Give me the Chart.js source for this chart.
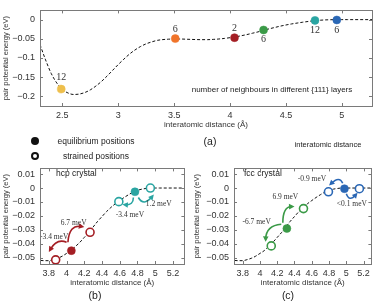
<!DOCTYPE html>
<html>
<head>
<meta charset="utf-8">
<script src="https://cdn.jsdelivr.net/npm/chart.js@4.4.1/dist/chart.umd.min.js"></script>
<style>
  body { margin: 0; background: #fff; }
  #fig { position: relative; width: 377px; height: 304px; overflow: hidden; font-family: 'Liberation Sans', Arial, sans-serif; color: #222; }
  canvas { position: absolute; }
  .t { position: absolute; white-space: nowrap; transform: translate(-50%, -50%); line-height: 1; }
  .l { position: absolute; white-space: nowrap; transform: translateY(-50%); line-height: 1; }
  .dot { position: absolute; width: 8px; height: 8px; border-radius: 50%; box-sizing: border-box; transform: translate(-50%, -50%); }
</style>
</head>
<body>
<div id="fig">
  <canvas id="ca" width="377" height="132" style="left:0;top:0"></canvas>
  <canvas id="cb" width="190" height="132" style="left:0;top:158px"></canvas>
  <canvas id="cc" width="187" height="132" style="left:190px;top:158px"></canvas>

  <div class="t" style="left:272px;top:90px;font-size:8px">number of neighbours in different {111} layers</div>
  <div class="t" style="left:210px;top:141px;font-size:10.5px">(a)</div>
  <div class="dot" style="left:35px;top:141px;background:#111"></div>
  <div class="dot" style="left:35px;top:156px;border:2px solid #111;background:#fff"></div>
  <div class="t" style="left:96px;top:141px;font-size:8.5px">equilibrium positions</div>
  <div class="t" style="left:96px;top:156px;font-size:8.5px">strained positions</div>
  <div class="t" style="left:328px;top:145px;font-size:7.5px">interatomic distance</div>
  <div class="l" style="left:56px;top:173px;font-size:8.5px">hcp crystal</div>
  <div class="l" style="left:244px;top:173px;font-size:8.5px">fcc crystal</div>
  <div class="t" style="left:95px;top:295px;font-size:10.5px">(b)</div>
  <div class="t" style="left:288px;top:295px;font-size:10.5px">(c)</div>
</div>
<script>
// pair potential
const curveX = [2.30, 2.35, 2.40, 2.45, 2.50, 2.55, 2.60, 2.65, 2.70, 2.75, 2.80, 2.85, 2.90, 2.95,
  3.00, 3.05, 3.10, 3.15, 3.20, 3.25, 3.30, 3.35, 3.40, 3.45, 3.50, 3.55, 3.60, 3.65, 3.70, 3.75,
  3.80, 3.85, 3.90, 3.95, 4.00, 4.05, 4.10, 4.15, 4.20, 4.25, 4.30, 4.35, 4.40, 4.45, 4.50, 4.55,
  4.60, 4.65, 4.70, 4.75, 4.80, 4.85, 4.90, 4.95, 5.00, 5.05, 5.10, 5.15, 5.20, 5.25, 5.30]
const curveY = [-0.065, -0.105, -0.140, -0.165, -0.182, -0.191, -0.195, -0.194, -0.190, -0.183, -0.173, -0.161, -0.147, -0.132,
  -0.117, -0.103, -0.090, -0.079, -0.070, -0.063, -0.058, -0.054, -0.052, -0.051, -0.0505, -0.0505, -0.051, -0.0515, -0.052, -0.0522,
  -0.0522, -0.0515, -0.0505, -0.049, -0.047, -0.045, -0.042, -0.039, -0.0355, -0.032, -0.028, -0.024, -0.0205, -0.017, -0.014, -0.0113,
  -0.009, -0.0068, -0.0048, -0.003, -0.0017, -0.0008, -0.0003, 0, 0, 0, 0, 0, 0, 0, 0]

const aTicksX = [2.5, 3, 3.5, 4, 4.5, 5]
const aTickLabelsX = ['2.5', '3', '3.5', '4', '4.5', '5']
const aTicksY = [0, -0.05, -0.1, -0.15, -0.2]
const aTickLabelsY = ['0', '\u22120.05', '\u22120.1', '\u22120.15', '\u22120.2']

const aPointX = [2.49, 3.51, 4.04, 4.30, 4.76, 4.955]
const aPointY = [-0.181, -0.0495, -0.047, -0.027, -0.002, -0.001]
const aPointLabels = ['12', '6', '2', '6', '12', '6']

const zTicksX = [3.8, 4, 4.2, 4.4, 4.6, 4.8, 5, 5.2]
const zTickLabelsX = ['3.8', '4', '4.2', '4.4', '4.6', '4.8', '5', '5.2']
const zTicksY = [0.01, 0, -0.01, -0.02, -0.03, -0.04, -0.05]
const zTickLabelsY = ['0.01', '0', '\u22120.01', '\u22120.02', '\u22120.03', '\u22120.04', '\u22120.05']

const hcpEqX = [4.054, 4.772]
const hcpEqY = [-0.045, -0.0027]
const hcpStrX = [3.877, 4.265, 4.59, 4.946]
const hcpStrY = [-0.0516, -0.0318, -0.0098, 0]
const hcpNotes = ['6.7 meV', '-3.4 meV', '-3.4 meV', '1.2 meV']
const hcpNoteX = [4.08, 3.86, 4.715, 5.04]
const hcpNoteY = [-0.025, -0.0352, -0.0194, -0.0114]
const hcpArrowFrom = [[4.015, -0.039], [4.0, -0.039], [4.754, -0.0068], [4.81, -0.0068]]
const hcpArrowVia = [[4.03, -0.026], [3.89, -0.036], [4.754, -0.0125], [4.87, -0.0135]]
const hcpArrowTo = [[4.2, -0.028], [3.80, -0.046], [4.63, -0.0119], [4.985, -0.0046]]

const fccEqX = [4.312, 4.978]
const fccEqY = [-0.0291, -0.0005]
const fccStrX = [4.131, 4.504, 4.793, 5.151]
const fccStrY = [-0.0416, -0.0148, -0.0027, -0.0005]
const fccNotes = ['6.9 meV', '-6.7 meV', '-0.9 meV', '<0.1 meV']
const fccNoteX = [4.294, 3.962, 4.603, 5.064]
const fccNoteY = [-0.0068, -0.0245, 0.0063, -0.0114]
const fccArrowFrom = [[4.265, -0.025], [4.247, -0.026], [4.958, 0.0034], [5.0, -0.0041]]
const fccArrowVia = [[4.265, -0.0136], [4.07, -0.027], [4.92, 0.009], [5.035, -0.0102]]
const fccArrowTo = [[4.40, -0.0132], [4.066, -0.0387], [4.8, 0.0018], [5.13, -0.0034]]

const SANS = "'Liberation Sans', Arial, sans-serif"
const SERIF = "'Liberation Serif', 'Times New Roman', serif"
const YELLOW = '#eebf4c', ORANGE = '#f0742a', RED = '#a41e24', GREEN = '#3b9a47', TEAL = '#2aa5a2', BLUE = '#2a67b5'

const extras = {
  id: 'extras',
  afterDatasetsDraw(chart, args, o) {
    const { ctx, scales: { x, y } } = chart
    const px = v => x.getPixelForValue(v)
    const py = v => y.getPixelForValue(v)
    ctx.save()
    ;(o.arrows || []).forEach(ar => {
      const p0 = [px(ar.from[0]), py(ar.from[1])]
      const p1 = [px(ar.via[0]), py(ar.via[1])]
      const p2 = [px(ar.to[0]), py(ar.to[1])]
      const ang = Math.atan2(p2[1] - p1[1], p2[0] - p1[0])
      ctx.strokeStyle = ar.color
      ctx.fillStyle = ar.color
      ctx.lineWidth = 1.6
      ctx.beginPath()
      ctx.moveTo(p0[0], p0[1])
      ctx.quadraticCurveTo(p1[0], p1[1], p2[0] - 3 * Math.cos(ang), p2[1] - 3 * Math.sin(ang))
      ctx.stroke()
      ctx.beginPath()
      ctx.moveTo(p2[0], p2[1])
      ctx.lineTo(p2[0] - 5.5 * Math.cos(ang) + 2.8 * Math.sin(ang), p2[1] - 5.5 * Math.sin(ang) - 2.8 * Math.cos(ang))
      ctx.lineTo(p2[0] - 5.5 * Math.cos(ang) - 2.8 * Math.sin(ang), p2[1] - 5.5 * Math.sin(ang) + 2.8 * Math.cos(ang))
      ctx.closePath()
      ctx.fill()
    })
    ctx.fillStyle = '#333'
    ctx.textAlign = 'center'
    ctx.textBaseline = 'middle'
    ctx.font = '7.5px ' + SERIF
    ;(o.notes || []).forEach(n => ctx.fillText(n.text, px(n.x), py(n.y)))
    ctx.font = '10px ' + SERIF
    ;(o.labels || []).forEach(n => ctx.fillText(n.text, px(n.x), py(n.y) + n.dy))
    ctx.restore()
  },
  afterDraw(chart, args, o) {
    const { ctx, chartArea: a, scales: { x, y } } = chart
    ctx.save()
    ctx.strokeStyle = '#7a7a7a'
    ctx.lineWidth = 1
    ctx.strokeRect(Math.round(a.left) + 0.5, Math.round(a.top) + 0.5, Math.round(a.right - a.left), Math.round(a.bottom - a.top))
    ctx.beginPath()
    o.xTicks.forEach(v => {
      const p = Math.round(x.getPixelForValue(v)) + 0.5
      ctx.moveTo(p, a.bottom); ctx.lineTo(p, a.bottom - 3)
      ctx.moveTo(p, a.top); ctx.lineTo(p, a.top + 3)
    })
    o.yTicks.forEach(v => {
      const p = Math.round(y.getPixelForValue(v)) + 0.5
      ctx.moveTo(a.left, p); ctx.lineTo(a.left + 3, p)
      ctx.moveTo(a.right, p); ctx.lineTo(a.right - 3, p)
    })
    ctx.stroke()
    ctx.restore()
  }
}

function scales(xMin, xMax, yMin, yMax, xt, xl, yt, yl, yWidth, xHeight, yTitlePad) {
  return {
    x: {
      type: 'linear', min: xMin, max: xMax,
      afterBuildTicks: s => { s.ticks = xt.map(v => ({ value: v })) },
      afterFit: s => { s.height = xHeight },
      grid: { display: false, drawTicks: false },
      border: { display: false },
      ticks: { callback: v => xl[xt.indexOf(v)], padding: 4, autoSkip: false, maxRotation: 0, color: '#333', font: { size: 9, family: SANS } },
      title: { display: true, text: 'interatomic distance (Å)', color: '#333', font: { size: 8, family: SANS }, padding: { top: 0, bottom: 2 } }
    },
    y: {
      type: 'linear', min: yMin, max: yMax,
      afterBuildTicks: s => { s.ticks = yt.map(v => ({ value: v })) },
      afterFit: s => { s.width = yWidth },
      grid: { display: false, drawTicks: false },
      border: { display: false },
      ticks: { callback: v => yl[yt.indexOf(v)], padding: 5, autoSkip: false, color: '#333', font: { size: 9, family: SANS } },
      title: { display: true, text: 'pair potential energy (eV)', color: '#333', font: { size: 7.5, family: SANS }, padding: { top: yTitlePad, bottom: 0 } }
    }
  }
}

function curveSet() {
  return {
    type: 'line', order: 2,
    data: curveX.map((v, i) => ({ x: v, y: curveY[i] })),
    borderColor: '#111', borderWidth: 1, borderDash: [3, 2],
    pointRadius: 0, cubicInterpolationMode: 'monotone'
  }
}

function pointSet(xs, ys, colors, open) {
  return {
    type: 'scatter', order: 0,
    data: xs.map((v, i) => ({ x: v, y: ys[i] })),
    pointRadius: 4,
    pointBackgroundColor: open ? '#fff' : colors,
    pointBorderColor: colors,
    pointBorderWidth: open ? 1.6 : 0.5
  }
}

function arrows(from, via, to, colors) {
  return from.map((f, i) => ({ from: f, via: via[i], to: to[i], color: colors[i] }))
}

Chart.defaults.animation = false
Chart.defaults.events = []
Chart.defaults.plugins.legend.display = false
Chart.defaults.plugins.tooltip.enabled = false

new Chart(document.getElementById('ca'), {
  data: {
    datasets: [
      curveSet(),
      pointSet(aPointX, aPointY, [YELLOW, ORANGE, RED, GREEN, TEAL, BLUE], false)
    ]
  },
  options: {
    responsive: false,
    layout: { padding: { top: 4, right: 5, left: 0, bottom: 0 } },
    scales: scales(2.3, 5.27, -0.225, 0.024, aTicksX, aTickLabelsX, aTicksY, aTickLabelsY, 40, 26, 1.2),
    plugins: {
      extras: {
        xTicks: aTicksX, yTicks: aTicksY,
        labels: aPointLabels.map((t, i) => ({ text: t, x: aPointX[i], y: aPointY[i], dy: [-12, -9, -9, 9, 10, 10][i] }))
      }
    }
  },
  plugins: [extras]
})

new Chart(document.getElementById('cb'), {
  data: {
    datasets: [
      curveSet(),
      pointSet(hcpEqX, hcpEqY, [RED, TEAL], false),
      pointSet(hcpStrX, hcpStrY, [RED, RED, TEAL, TEAL], true)
    ]
  },
  options: {
    responsive: false,
    layout: { padding: { top: 5, right: 5, left: 0, bottom: 0 } },
    scales: scales(3.7, 5.33, -0.0546, 0.0141, zTicksX, zTickLabelsX, zTicksY, zTickLabelsY, 40, 26, 1.2),
    plugins: {
      extras: {
        xTicks: zTicksX, yTicks: zTicksY,
        notes: hcpNotes.map((t, i) => ({ text: t, x: hcpNoteX[i], y: hcpNoteY[i] })),
        arrows: arrows(hcpArrowFrom, hcpArrowVia, hcpArrowTo, [RED, RED, TEAL, TEAL])
      }
    }
  },
  plugins: [extras]
})

new Chart(document.getElementById('cc'), {
  data: {
    datasets: [
      curveSet(),
      pointSet(fccEqX, fccEqY, [GREEN, BLUE], false),
      pointSet(fccStrX, fccStrY, [GREEN, GREEN, BLUE, BLUE], true)
    ]
  },
  options: {
    responsive: false,
    layout: { padding: { top: 5, right: 5, left: 0, bottom: 0 } },
    scales: scales(3.7, 5.29, -0.0546, 0.0141, zTicksX, zTickLabelsX, zTicksY, zTickLabelsY, 44, 26, 2.2),
    plugins: {
      extras: {
        xTicks: zTicksX, yTicks: zTicksY,
        notes: fccNotes.map((t, i) => ({ text: t, x: fccNoteX[i], y: fccNoteY[i] })),
        arrows: arrows(fccArrowFrom, fccArrowVia, fccArrowTo, [GREEN, GREEN, BLUE, BLUE])
      }
    }
  },
  plugins: [extras]
})
</script>
</body>
</html>
